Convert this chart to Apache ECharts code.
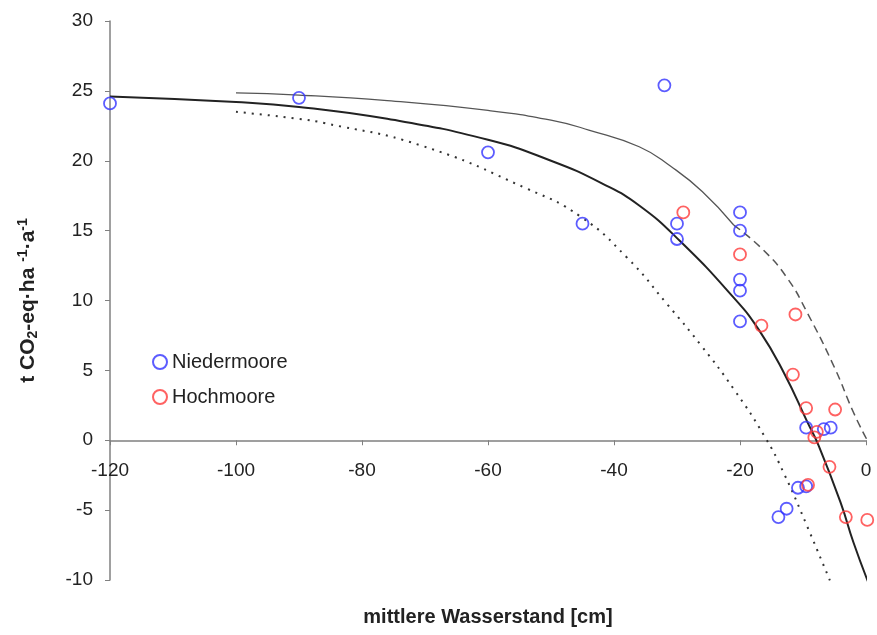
<!DOCTYPE html>
<html>
<head>
<meta charset="utf-8">
<title>CO2 vs Wasserstand</title>
<script src="https://cdn.jsdelivr.net/npm/echarts@6/dist/echarts.min.js"></script>
<style>
    html, body { margin: 0; padding: 0; background: #fff; }
    #chart { width: 877px; height: 635px; }
</style>
</head>
<body>
<div id="chart"></div>
<script>
// Messpunkte (x = mittlerer Wasserstand [cm], y = t CO2-eq/ha/a)
const niedermoore = [
    [-120, 24.1], [-90, 24.5], [-60, 20.6], [-45, 15.5], [-32, 25.4],
    [-30, 15.5], [-30, 14.4], [-20, 16.3], [-20, 15.0], [-20, 11.5],
    [-20, 10.7], [-20, 8.5], [-9.5, 0.9], [-6.7, 0.8], [-5.6, 0.9],
    [-10.8, -3.4], [-9.5, -3.3], [-12.6, -4.9], [-13.9, -5.5]
];
const hochmoore = [
    [-29, 16.3], [-20, 13.3], [-11.2, 9.0], [-16.6, 8.2], [-11.6, 4.7],
    [-9.5, 2.3], [-4.9, 2.2], [-7.8, 0.6], [-8.2, 0.2], [-5.8, -1.9],
    [-9.2, -3.2], [-3.2, -5.5], [0.2, -5.7]
];

// Kurven
const mittelKurve = [
    [-120, 24.6], [-100, 24.2], [-90, 23.85], [-76, 23.0], [-60, 21.5],
    [-50, 20.0], [-42, 18.4], [-36, 16.8], [-29.4, 14.2], [-21, 10.2],
    [-17, 7.9], [-13, 4.8], [-9.3, 1.3], [-7.5, -0.4], [-4, -4.5],
    [-2, -7.3], [0.3, -10.1]
];
const obereKurve = [
    [-100, 24.85], [-90, 24.7], [-76, 24.3], [-60, 23.6], [-50, 22.9],
    [-44, 22.2], [-36, 21.0], [-31, 19.6], [-26, 17.8], [-21, 15.4]
];
const obereKurveGestrichelt = [
    [-21, 15.4], [-16.5, 13.7], [-12.5, 11.6], [-9.3, 9.1],
    [-5, 5.2], [-2, 2.0], [0.2, 0]
];
const untereKurve = [
    [-100, 23.5], [-90, 23.0], [-86, 22.7], [-70.7, 21.1], [-53.8, 18.0],
    [-45.3, 16.0], [-38, 13.1], [-31.5, 9.7], [-26.2, 6.8], [-20.9, 3.6],
    [-16, 0.2], [-13, -2.4], [-9.3, -6.2], [-5.4, -10.4]
];

const xTicks = { min: -120, max: 0, interval: 20 };
const yTicks = { min: -10, max: 30, interval: 5 };

const chart = echarts.init(document.getElementById('chart'));

const fontFamily = 'Liberation Sans, Arial, sans-serif';
const gridTop = 21;
const gridBottom = 55;
const plotHeight = 635 - gridTop - gridBottom;
// x-Achse sitzt bei y = 0
const xAxisOffset = -plotHeight * (0 - yTicks.min) / (yTicks.max - yTicks.min);

const option = {
    backgroundColor: '#fff',
    animation: false,
    textStyle: { fontFamily: fontFamily },
    grid: {
        left: 110,
        right: 11,
        top: gridTop,
        bottom: gridBottom,
        containLabel: false,
        outerBoundsMode: 'none'
    },
    legend: {
        data: ['Niedermoore', 'Hochmoore'],
        orient: 'vertical',
        left: 147,
        top: 347,
        itemGap: 15,
        itemWidth: 14,
        itemHeight: 14,
        textStyle: { fontSize: 20, color: '#222', fontFamily: fontFamily }
    },
    xAxis: {
        type: 'value',
        min: xTicks.min,
        max: xTicks.max,
        interval: xTicks.interval,
        offset: xAxisOffset,
        name: 'mittlere Wasserstand [cm]',
        nameLocation: 'middle',
        nameGap: 167,
        nameTextStyle: { fontSize: 20, fontWeight: 'bold', color: '#222' },
        axisLine: { onZero: false, lineStyle: { color: '#808080', width: 1.5 } },
        axisTick: { show: true, length: 5, lineStyle: { color: '#808080' } },
        axisLabel: { fontSize: 19, color: '#222', margin: 21 },
        splitLine: { show: false }
    },
    yAxis: {
        type: 'value',
        min: yTicks.min,
        max: yTicks.max,
        interval: yTicks.interval,
        name: '{m|t CO}{sub|2}{m|-eq·ha }{sup|-1}{m|·a}{sup|-1}',
        nameLocation: 'middle',
        nameRotate: 90,
        nameGap: 70,
        nameTextStyle: {
            rich: {
                m: { fontSize: 21, fontWeight: 'bold', color: '#222', lineHeight: 24 },
                sub: { fontSize: 14, fontWeight: 'bold', color: '#222', verticalAlign: 'bottom', lineHeight: 24 },
                sup: { fontSize: 14, fontWeight: 'bold', color: '#222', verticalAlign: 'top', lineHeight: 24 }
            }
        },
        axisLine: { show: true, onZero: false, lineStyle: { color: '#808080', width: 1.5 } },
        axisTick: { show: true, length: 5, lineStyle: { color: '#808080' } },
        axisLabel: { fontSize: 19, color: '#222', margin: 17 },
        splitLine: { show: false }
    },
    series: [
        {
            name: 'mittel',
            type: 'line',
            data: mittelKurve,
            smooth: true,
            showSymbol: false,
            clip: false,
            lineStyle: { color: '#222', width: 2 },
            z: 2
        },
        {
            name: 'oben',
            type: 'line',
            data: obereKurve,
            smooth: true,
            showSymbol: false,
            lineStyle: { color: '#555', width: 1.3 },
            z: 2
        },
        {
            name: 'oben gestrichelt',
            type: 'line',
            data: obereKurveGestrichelt,
            smooth: true,
            showSymbol: false,
            clip: false,
            lineStyle: { color: '#555', width: 1.5, type: [8, 5] },
            z: 2
        },
        {
            name: 'unten',
            type: 'line',
            data: untereKurve,
            smooth: true,
            showSymbol: false,
            clip: false,
            lineStyle: { color: '#333', width: 2, type: [2, 6] },
            z: 2
        },
        {
            name: 'Niedermoore',
            type: 'scatter',
            data: niedermoore,
            symbol: 'circle',
            symbolSize: 12,
            clip: false,
            itemStyle: { color: 'rgba(255,255,255,0)', borderColor: '#3333ff', borderWidth: 1.8 },
            z: 3
        },
        {
            name: 'Hochmoore',
            type: 'scatter',
            data: hochmoore,
            symbol: 'circle',
            symbolSize: 12,
            clip: false,
            itemStyle: { color: 'rgba(255,255,255,0)', borderColor: '#ff3b3b', borderWidth: 1.8 },
            z: 3
        }
    ]
};

chart.setOption(option);
window.addEventListener('resize', () => chart.resize());
</script>
</body>
</html>
